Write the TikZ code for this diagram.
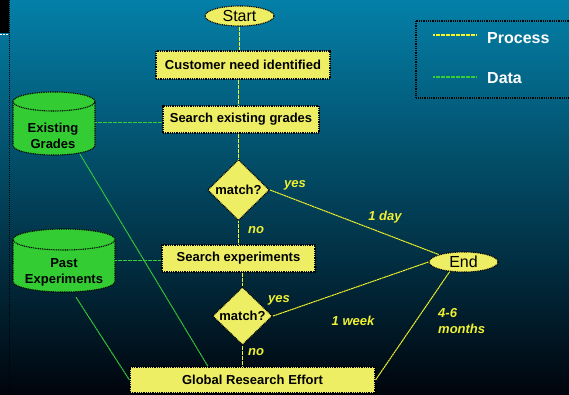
\documentclass[tikz,border=0pt]{standalone}
\usepackage{fontspec}
\setmainfont{Liberation Sans}
\usetikzlibrary{shapes.geometric,calc}
\definecolor{bgtop}{RGB}{4,128,168}
\definecolor{bgmid}{RGB}{0,84,114}
\definecolor{bgbot}{RGB}{0,4,12}
\definecolor{boxfill}{RGB}{238,238,100}
\definecolor{cylfill}{RGB}{51,204,51}
\definecolor{procline}{RGB}{245,245,40}
\definecolor{dataline}{RGB}{55,205,55}
\definecolor{labyellow}{RGB}{240,240,50}
\tikzset{
  border/.style={draw=black, line width=1.1pt, dash pattern=on 1pt off 0.8pt},
  procbox/.style={border, fill=boxfill, rectangle, minimum height=27pt, inner sep=0pt, font=\fontsize{13}{16}\selectfont\bfseries},
  decision/.style={border, fill=boxfill, diamond, inner sep=0pt, font=\fontsize{13}{16}\selectfont\bfseries},
  terminal/.style={border, fill=boxfill, ellipse, inner sep=0pt, font=\fontsize{16}{18}\selectfont},
  proc/.style={draw=procline, line width=1pt, dash pattern=on 2pt off 0.5pt},
  data/.style={draw=dataline, line width=1pt, dash pattern=on 2pt off 0.5pt},
  lab/.style={text=labyellow, inner sep=0pt, font=\fontsize{13}{16}\selectfont\bfseries\itshape},
  cyltext/.style={align=center, inner sep=0pt, font=\fontsize{13}{16}\selectfont\bfseries},
  legtext/.style={text=white, anchor=west, inner sep=0pt, font=\fontsize{16}{18}\selectfont\bfseries},
  cylarea/.style={rectangle, inner sep=0pt}
}
\begin{document}
\begin{tikzpicture}[x=1pt,y=-1pt]
\useasboundingbox (0,0) rectangle (569,395);
\shade[top color=bgtop, middle color=bgmid, bottom color=bgbot] (0,0) rectangle (569,395);
% left strip
\fill[black] (0,0) rectangle (9,33);
\draw[white, line width=1.5pt, dash pattern=on 2pt off 1pt] (0,34.5) -- (9,34.5);
\draw[black, line width=1.2pt, dash pattern=on 1pt off 1pt] (9.5,0) -- (9.5,395);
% legend
\draw[border] (416,21) rectangle (575,98);
\coordinate (pl1) at (433,35);
\coordinate (pl2) at (477,35);
\coordinate (dl1) at (433,77);
\coordinate (dl2) at (477,77);
\draw[proc, line width=1.2pt] (pl1) -- (pl2);
\draw[data, line width=1.2pt] (dl1) -- (dl2);
\node[legtext] (lp) at (487,38) {Process};
\node[legtext] (ld) at (487,78) {Data};
% cylinders
\fill[cylfill] (13,101.5) -- (13,145.5) arc[start angle=180, end angle=360, x radius=41pt, y radius=9.5pt] -- (95,101.5) arc[start angle=0, end angle=180, x radius=41pt, y radius=9.5pt] -- cycle;
\draw[border] (13,101.5) -- (13,145.5) arc[start angle=180, end angle=360, x radius=41pt, y radius=9.5pt] -- (95,101.5);
\draw[border, fill=cylfill] (54,101.5) ellipse[x radius=41pt, y radius=9.5pt];
\node[cylarea, minimum width=82pt, minimum height=63pt] (EG) at (54,122.5) {};
\node[cyltext] (EGt) at (53,136) {Existing\\Grades};
\fill[cylfill] (13,239.5) -- (13,281.5) arc[start angle=180, end angle=360, x radius=51pt, y radius=10.5pt] -- (115,239.5) arc[start angle=0, end angle=180, x radius=51pt, y radius=10.5pt] -- cycle;
\draw[border] (13,239.5) -- (13,281.5) arc[start angle=180, end angle=360, x radius=51pt, y radius=10.5pt] -- (115,239.5);
\draw[border, fill=cylfill] (64,239.5) ellipse[x radius=51pt, y radius=10.5pt];
\node[cylarea, minimum width=102pt, minimum height=63pt] (PE) at (64,260.5) {};
\node[cyltext] (PEt) at (64,272.5) {Past\\Experiments};
% process nodes
\node[terminal, minimum width=69pt, minimum height=20pt] (Start) at (239.5,16) {Start};
\node[procbox, minimum width=174pt, minimum height=28pt] (Cust) at (243,65) {Customer need identified};
\node[procbox, minimum width=156pt] (SEG) at (241,119.5) {Search existing grades};
\node[decision, minimum width=62pt, minimum height=61pt] (D1) at (238.5,190) {match?};
\node[procbox, minimum width=153pt] (SE) at (238.5,258.5) {Search experiments};
\node[decision, minimum width=60pt, minimum height=58pt] (D2) at (242.5,316) {match?};
\node[terminal, minimum width=69pt, minimum height=20pt] (End) at (463.5,262) {End};
\node[procbox, minimum width=245pt, minimum height=26pt] (GR) at (252.5,380) {Global Research Effort};
% data connectors
\draw[data] (EG.east) -- (EG.east -| SEG.west);
\draw[data] (PE.east) -- (PE.east -| SE.west);
\draw[data] ([xshift=26pt]EG.south) -- ([xshift=-44.5pt]GR.north);
\draw[data] ([xshift=12pt,yshift=-5pt]PE.south) -- (GR.west);
% process connectors
\draw[proc] (Start.south) -- (Start.south |- Cust.north);
\draw[proc] (D1.north |- Cust.south) -- (D1.north |- SEG.north);
\draw[proc] (D1.north |- SEG.south) -- (D1.north);
\draw[proc] (D1.east) -- (End.north west);
\draw[proc] (D1.south) -- (D1.south |- SE.north);
\draw[proc] (D2.north |- SE.south) -- (D2.north);
\draw[proc] (D2.east) -- (End.west);
\draw[proc] (D2.south) -- (D2.south |- GR.north);
\draw[proc] (GR.east) -- (End.215);
% labels
\node[lab] (y1) at (295,185) {yes};
\node[lab] (n1) at (256,230) {no};
\node[lab] (d1) at (385,217) {1 day};
\node[lab] (y2) at (279,300) {yes};
\node[lab] (n2) at (256,352) {no};
\node[lab] (w1) at (353,321) {1 week};
\node[lab, anchor=west, align=left] (m1) at (438,321) {4-6\\months};
\end{tikzpicture}
\end{document}
